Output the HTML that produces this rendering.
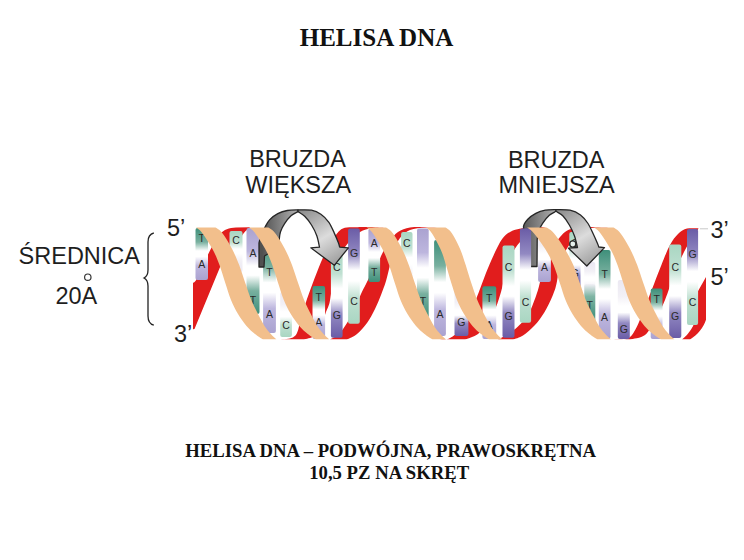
<!DOCTYPE html>
<html><head><meta charset="utf-8">
<style>
html,body{margin:0;padding:0;background:#fff;width:744px;height:560px;overflow:hidden}
svg{display:block}
.sans{font-family:"Liberation Sans",sans-serif;fill:#1e1e1e}
.bl{font-family:"Liberation Sans",sans-serif;font-size:10.5px;fill:#2a2a2a;text-anchor:middle}
.serif{font-family:"Liberation Serif",serif;font-weight:bold;fill:#111}
</style></head><body>
<svg width="744" height="560" viewBox="0 0 744 560">
<rect width="744" height="560" fill="#fff"/>
<defs>
<linearGradient id="g0" x1="0" y1="0" x2="0" y2="1"><stop offset="0" stop-color="#3e8f7a"/><stop offset="0.27" stop-color="#78b09f"/><stop offset="0.44" stop-color="#fff"/><stop offset="0.55" stop-color="#fff"/><stop offset="0.73" stop-color="#bdb6de"/><stop offset="1" stop-color="#aaa2d0"/></linearGradient>
<linearGradient id="g1" x1="0" y1="0" x2="0" y2="1"><stop offset="0" stop-color="#a9d6c2"/><stop offset="0.27" stop-color="#bfe0d1"/><stop offset="0.44" stop-color="#fff"/><stop offset="0.55" stop-color="#fff"/><stop offset="0.73" stop-color="#f2f0f6"/><stop offset="1" stop-color="#ebe8f2"/></linearGradient>
<linearGradient id="g2" x1="0" y1="0" x2="0" y2="1"><stop offset="0" stop-color="#aaa2d0"/><stop offset="0.27" stop-color="#bdb6de"/><stop offset="0.44" stop-color="#fff"/><stop offset="0.55" stop-color="#fff"/><stop offset="0.73" stop-color="#78b09f"/><stop offset="1" stop-color="#3e8f7a"/></linearGradient>
<linearGradient id="g3" x1="0" y1="0" x2="0" y2="1"><stop offset="0" stop-color="#3e8f7a"/><stop offset="0.27" stop-color="#78b09f"/><stop offset="0.44" stop-color="#fff"/><stop offset="0.55" stop-color="#fff"/><stop offset="0.73" stop-color="#bdb6de"/><stop offset="1" stop-color="#aaa2d0"/></linearGradient>
<linearGradient id="g4" x1="0" y1="0" x2="0" y2="1"><stop offset="0" stop-color="#ebe8f2"/><stop offset="0.27" stop-color="#f2f0f6"/><stop offset="0.44" stop-color="#fff"/><stop offset="0.55" stop-color="#fff"/><stop offset="0.73" stop-color="#bfe0d1"/><stop offset="1" stop-color="#a9d6c2"/></linearGradient>
<linearGradient id="g5" x1="0" y1="0" x2="0" y2="1"><stop offset="0" stop-color="#3e8f7a"/><stop offset="0.27" stop-color="#78b09f"/><stop offset="0.44" stop-color="#fff"/><stop offset="0.55" stop-color="#fff"/><stop offset="0.73" stop-color="#bdb6de"/><stop offset="1" stop-color="#aaa2d0"/></linearGradient>
<linearGradient id="g6" x1="0" y1="0" x2="0" y2="1"><stop offset="0" stop-color="#a9d6c2"/><stop offset="0.27" stop-color="#bfe0d1"/><stop offset="0.44" stop-color="#fff"/><stop offset="0.55" stop-color="#fff"/><stop offset="0.73" stop-color="#9289c2"/><stop offset="1" stop-color="#6a5ca6"/></linearGradient>
<linearGradient id="g7" x1="0" y1="0" x2="0" y2="1"><stop offset="0" stop-color="#6a5ca6"/><stop offset="0.27" stop-color="#9289c2"/><stop offset="0.44" stop-color="#fff"/><stop offset="0.55" stop-color="#fff"/><stop offset="0.73" stop-color="#bfe0d1"/><stop offset="1" stop-color="#a9d6c2"/></linearGradient>
<linearGradient id="g8" x1="0" y1="0" x2="0" y2="1"><stop offset="0" stop-color="#aaa2d0"/><stop offset="0.27" stop-color="#bdb6de"/><stop offset="0.44" stop-color="#fff"/><stop offset="0.55" stop-color="#fff"/><stop offset="0.73" stop-color="#78b09f"/><stop offset="1" stop-color="#3e8f7a"/></linearGradient>
<linearGradient id="g9" x1="0" y1="0" x2="0" y2="1"><stop offset="0" stop-color="#a9d6c2"/><stop offset="0.27" stop-color="#bfe0d1"/><stop offset="0.44" stop-color="#fff"/><stop offset="0.55" stop-color="#fff"/><stop offset="0.73" stop-color="#f2f0f6"/><stop offset="1" stop-color="#ebe8f2"/></linearGradient>
<linearGradient id="g10" x1="0" y1="0" x2="0" y2="1"><stop offset="0" stop-color="#aaa2d0"/><stop offset="0.27" stop-color="#bdb6de"/><stop offset="0.44" stop-color="#fff"/><stop offset="0.55" stop-color="#fff"/><stop offset="0.73" stop-color="#78b09f"/><stop offset="1" stop-color="#3e8f7a"/></linearGradient>
<linearGradient id="g11" x1="0" y1="0" x2="0" y2="1"><stop offset="0" stop-color="#3e8f7a"/><stop offset="0.27" stop-color="#78b09f"/><stop offset="0.44" stop-color="#fff"/><stop offset="0.55" stop-color="#fff"/><stop offset="0.73" stop-color="#bdb6de"/><stop offset="1" stop-color="#aaa2d0"/></linearGradient>
<linearGradient id="g12" x1="0" y1="0" x2="0" y2="1"><stop offset="0" stop-color="#ebe8f2"/><stop offset="0.27" stop-color="#f2f0f6"/><stop offset="0.44" stop-color="#fff"/><stop offset="0.55" stop-color="#fff"/><stop offset="0.73" stop-color="#9289c2"/><stop offset="1" stop-color="#6a5ca6"/></linearGradient>
<linearGradient id="g13" x1="0" y1="0" x2="0" y2="1"><stop offset="0" stop-color="#3e8f7a"/><stop offset="0.27" stop-color="#78b09f"/><stop offset="0.44" stop-color="#fff"/><stop offset="0.55" stop-color="#fff"/><stop offset="0.73" stop-color="#bdb6de"/><stop offset="1" stop-color="#aaa2d0"/></linearGradient>
<linearGradient id="g14" x1="0" y1="0" x2="0" y2="1"><stop offset="0" stop-color="#a9d6c2"/><stop offset="0.27" stop-color="#bfe0d1"/><stop offset="0.44" stop-color="#fff"/><stop offset="0.55" stop-color="#fff"/><stop offset="0.73" stop-color="#9289c2"/><stop offset="1" stop-color="#6a5ca6"/></linearGradient>
<linearGradient id="g15" x1="0" y1="0" x2="0" y2="1"><stop offset="0" stop-color="#6a5ca6"/><stop offset="0.27" stop-color="#9289c2"/><stop offset="0.44" stop-color="#fff"/><stop offset="0.55" stop-color="#fff"/><stop offset="0.73" stop-color="#bfe0d1"/><stop offset="1" stop-color="#a9d6c2"/></linearGradient>
<linearGradient id="g16" x1="0" y1="0" x2="0" y2="1"><stop offset="0" stop-color="#ebe8f2"/><stop offset="0.27" stop-color="#f2f0f6"/><stop offset="0.44" stop-color="#fff"/><stop offset="0.55" stop-color="#fff"/><stop offset="0.73" stop-color="#bdb6de"/><stop offset="1" stop-color="#aaa2d0"/></linearGradient>
<linearGradient id="g17" x1="0" y1="0" x2="0" y2="1"><stop offset="0" stop-color="#a9d6c2"/><stop offset="0.27" stop-color="#bfe0d1"/><stop offset="0.44" stop-color="#fff"/><stop offset="0.55" stop-color="#fff"/><stop offset="0.73" stop-color="#9289c2"/><stop offset="1" stop-color="#6a5ca6"/></linearGradient>
<linearGradient id="g18" x1="0" y1="0" x2="0" y2="1"><stop offset="0" stop-color="#ebe8f2"/><stop offset="0.27" stop-color="#f2f0f6"/><stop offset="0.44" stop-color="#fff"/><stop offset="0.55" stop-color="#fff"/><stop offset="0.73" stop-color="#f2f0f6"/><stop offset="1" stop-color="#ebe8f2"/></linearGradient>
<linearGradient id="g19" x1="0" y1="0" x2="0" y2="1"><stop offset="0" stop-color="#3e8f7a"/><stop offset="0.27" stop-color="#78b09f"/><stop offset="0.44" stop-color="#fff"/><stop offset="0.55" stop-color="#fff"/><stop offset="0.73" stop-color="#bdb6de"/><stop offset="1" stop-color="#aaa2d0"/></linearGradient>
<linearGradient id="g20" x1="0" y1="0" x2="0" y2="1"><stop offset="0" stop-color="#ebe8f2"/><stop offset="0.27" stop-color="#f2f0f6"/><stop offset="0.44" stop-color="#fff"/><stop offset="0.55" stop-color="#fff"/><stop offset="0.73" stop-color="#9289c2"/><stop offset="1" stop-color="#6a5ca6"/></linearGradient>
<linearGradient id="g21" x1="0" y1="0" x2="0" y2="1"><stop offset="0" stop-color="#3e8f7a"/><stop offset="0.27" stop-color="#78b09f"/><stop offset="0.44" stop-color="#fff"/><stop offset="0.55" stop-color="#fff"/><stop offset="0.73" stop-color="#bdb6de"/><stop offset="1" stop-color="#aaa2d0"/></linearGradient>
<linearGradient id="g22" x1="0" y1="0" x2="0" y2="1"><stop offset="0" stop-color="#a9d6c2"/><stop offset="0.27" stop-color="#bfe0d1"/><stop offset="0.44" stop-color="#fff"/><stop offset="0.55" stop-color="#fff"/><stop offset="0.73" stop-color="#9289c2"/><stop offset="1" stop-color="#6a5ca6"/></linearGradient>
<linearGradient id="g23" x1="0" y1="0" x2="0" y2="1"><stop offset="0" stop-color="#6a5ca6"/><stop offset="0.27" stop-color="#9289c2"/><stop offset="0.44" stop-color="#fff"/><stop offset="0.55" stop-color="#fff"/><stop offset="0.73" stop-color="#bfe0d1"/><stop offset="1" stop-color="#a9d6c2"/></linearGradient>
<clipPath id="hx"><rect x="193" y="226.5" width="513" height="113"/></clipPath>
</defs>
<g clip-path="url(#hx)">
<path d="M192,329.5 L192,283 L194,282.5 C196,281 199,276 204,263 C209,252 214,242 220,234 C224,229.5 229,228 236,227.5 L250,227.2 L249,229 C246,230 242,234 240,240 C236,250 230,258 224,262 L220.5,266 L194.5,329 L192,329.5 Z" fill="#e11d1d"/>
<path d="M276.0,339.5 C278.3,339.3 286.5,339.6 290.0,338.5 C293.5,337.4 295.2,336.4 297.0,333.0 C298.8,329.6 299.3,323.7 301.0,318.0 C302.7,312.3 304.8,305.5 307.0,299.0 C309.2,292.5 311.7,285.9 314.3,279.0 C316.9,272.1 320.3,263.5 322.9,257.7 C325.5,251.9 327.6,248.1 330.0,244.0 C332.4,239.9 334.9,236.0 337.0,233.4 C339.1,230.8 340.4,229.4 342.9,228.4 C345.4,227.4 348.1,227.5 352.0,227.3 C355.9,227.1 363.7,227.1 366.0,227.0 L385.0,227.0 C382.8,227.2 376.2,227.2 372.0,228.0 C367.8,228.8 363.8,229.7 360.0,232.0 C356.2,234.3 352.3,238.2 349.0,242.0 C345.7,245.8 342.3,250.7 340.0,255.0 C337.7,259.3 336.6,263.2 335.4,267.7 C334.2,272.2 333.6,276.3 332.6,282.0 C331.7,287.7 330.8,297.0 329.7,302.0 C328.6,307.0 327.4,308.0 326.0,312.0 C324.6,316.0 323.0,322.0 321.0,326.0 C319.0,330.0 316.8,333.8 314.0,336.0 C311.2,338.2 305.7,338.9 304.0,339.5 Z" fill="#e11d1d"/>
<path d="M330.0,339.5 C331.7,338.4 336.7,336.6 340.0,333.0 C343.3,329.4 347.3,322.5 350.0,318.0 C352.7,313.5 354.2,310.0 356.0,306.0 C357.8,302.0 359.3,297.7 361.0,294.0 C362.7,290.3 364.3,287.3 366.0,284.0 C367.7,280.7 369.2,277.2 371.0,274.0 C372.8,270.8 375.0,268.7 377.0,265.0 C379.0,261.3 380.8,256.0 383.0,252.0 C385.2,248.0 387.5,244.3 390.0,241.0 C392.5,237.7 394.7,234.2 398.0,232.0 C401.3,229.8 405.3,228.3 410.0,227.5 C414.7,226.7 423.3,227.1 426.0,227.0 L446.0,227.0 C442.7,227.1 432.0,227.0 426.0,227.5 C420.0,228.0 414.3,228.2 410.0,230.0 C405.7,231.8 402.7,234.7 400.0,238.0 C397.3,241.3 395.7,245.5 394.0,250.0 C392.3,254.5 391.3,259.8 390.0,265.0 C388.7,270.2 387.5,276.0 386.0,281.0 C384.5,286.0 382.8,290.3 381.0,295.0 C379.2,299.7 377.3,304.3 375.0,309.0 C372.7,313.7 370.0,318.8 367.0,323.0 C364.0,327.2 360.3,331.2 357.0,334.0 C353.7,336.8 348.7,338.6 347.0,339.5 Z" fill="#e11d1d"/>
<path d="M438.0,339.5 C439.8,339.4 444.0,341.2 448.6,338.8 C453.2,336.4 461.8,329.9 465.7,324.9 C469.6,319.9 469.9,314.4 472.0,309.0 C474.1,303.6 475.7,300.1 478.6,292.7 C481.5,285.3 485.4,273.8 489.3,264.9 C493.2,256.0 498.2,244.8 502.1,239.1 C506.0,233.4 509.7,232.4 512.9,230.6 C516.1,228.8 519.0,229.0 521.4,228.4 C523.8,227.8 526.1,227.2 527.0,227.0 L546.0,227.0 C544.2,227.6 538.8,228.5 535.0,230.5 C531.2,232.5 526.7,235.4 523.0,239.0 C519.3,242.6 515.8,246.5 513.0,252.0 C510.2,257.5 508.0,265.3 506.0,272.0 C504.0,278.7 502.7,286.2 501.0,292.0 C499.3,297.8 498.0,302.2 496.0,307.0 C494.0,311.8 492.0,316.5 489.0,321.0 C486.0,325.5 482.0,330.9 478.0,334.0 C474.0,337.1 467.2,338.6 465.0,339.5 Z" fill="#e11d1d"/>
<path d="M498.0,339.5 C499.7,338.6 504.7,336.2 508.0,334.0 C511.3,331.8 514.7,329.7 518.0,326.5 C521.3,323.3 525.0,320.1 528.0,315.0 C531.0,309.9 534.0,301.5 536.0,296.0 C538.0,290.5 538.7,287.7 540.0,282.0 C541.3,276.3 542.2,267.7 544.0,262.0 C545.8,256.3 548.6,251.9 551.0,248.0 C553.4,244.1 556.3,241.4 558.6,238.7 C560.9,236.0 562.9,233.6 565.0,232.0 C567.1,230.4 568.5,229.7 571.0,228.9 C573.5,228.1 576.7,227.6 580.0,227.3 C583.3,227.0 589.2,227.1 591.0,227.0 L610.0,227.0 C606.8,227.2 595.8,227.2 591.0,228.0 C586.2,228.8 584.0,230.0 581.0,232.0 C578.0,234.0 575.5,237.0 573.0,240.0 C570.5,243.0 568.2,246.3 566.0,250.0 C563.8,253.7 561.5,256.5 560.0,262.0 C558.5,267.5 558.0,277.1 556.7,282.8 C555.5,288.5 554.6,291.1 552.5,296.0 C550.4,300.9 547.3,307.5 544.3,312.4 C541.3,317.3 538.0,321.7 534.5,325.5 C531.0,329.3 526.6,333.1 523.0,335.4 C519.4,337.7 514.8,338.8 513.1,339.5 Z" fill="#e11d1d"/>
<path d="M612.0,339.5 C614.5,339.4 623.0,340.5 627.0,338.8 C631.0,337.1 632.5,335.0 635.7,329.1 C638.9,323.2 642.1,314.1 646.4,303.4 C650.7,292.7 657.5,274.6 661.4,264.9 C665.3,255.2 667.2,250.2 670.0,245.0 C672.8,239.8 675.2,236.7 678.0,234.0 C680.8,231.3 683.7,229.5 687.0,228.6 C690.3,227.7 696.2,228.4 698.0,228.3 L698.5,228.3 C698.2,228.8 698.1,229.4 697.0,231.0 C695.9,232.6 694.2,234.5 692.0,238.0 C689.8,241.5 686.8,246.3 684.0,252.0 C681.2,257.7 678.2,264.0 675.0,272.0 C671.8,280.0 668.3,292.0 665.0,300.0 C661.7,308.0 658.3,314.2 655.0,320.0 C651.7,325.8 649.2,331.8 645.0,335.0 C640.8,338.2 632.5,338.8 630.0,339.5 Z" fill="#e11d1d"/>
<path d="M706.5,276 L707,316 C705,326 699,334 690,339.5 L682,339.5 C689,334 694,326 697,316 L697.5,292 Z" fill="#e11d1d"/>
<rect x="195.5" y="228.0" width="12.5" height="52.0" rx="2" fill="url(#g0)"/>
<text class="bl" x="201.8" y="241.6">T</text>
<text class="bl" x="201.8" y="267.6">A</text>
<rect x="229.5" y="231.0" width="13.0" height="41.0" rx="2" fill="url(#g1)"/>
<text class="bl" x="236.0" y="243.6">C</text>
<rect x="246.5" y="228.0" width="13.0" height="86.0" rx="2" fill="url(#g2)"/>
<text class="bl" x="253.0" y="256.6">A</text>
<text class="bl" x="253.0" y="303.6">T</text>
<rect x="263.1" y="243.0" width="12.8" height="90.0" rx="2" fill="url(#g3)"/>
<text class="bl" x="269.5" y="276.0">T</text>
<text class="bl" x="269.5" y="317.6">A</text>
<rect x="280.2" y="292.0" width="11.7" height="45.0" rx="2" fill="url(#g4)"/>
<text class="bl" x="286.0" y="328.6">C</text>
<rect x="312.5" y="286.0" width="12.6" height="53.0" rx="2" fill="url(#g5)"/>
<text class="bl" x="318.8" y="300.6">T</text>
<text class="bl" x="318.8" y="326.3">A</text>
<rect x="330.9" y="250.0" width="11.7" height="87.7" rx="2" fill="url(#g6)"/>
<text class="bl" x="336.8" y="270.6">C</text>
<text class="bl" x="336.8" y="318.6">G</text>
<rect x="348.1" y="228.4" width="11.7" height="95.4" rx="2" fill="url(#g7)"/>
<text class="bl" x="354.0" y="256.6">G</text>
<text class="bl" x="354.0" y="304.6">C</text>
<rect x="368.4" y="228.4" width="11.7" height="53.6" rx="2" fill="url(#g8)"/>
<text class="bl" x="374.2" y="247.0">A</text>
<text class="bl" x="374.2" y="276.0">T</text>
<rect x="401.1" y="232.0" width="11.4" height="58.0" rx="2" fill="url(#g9)"/>
<text class="bl" x="406.8" y="247.0">C</text>
<rect x="417.0" y="228.4" width="11.7" height="89.6" rx="2" fill="url(#g10)"/>
<text class="bl" x="422.9" y="304.9">T</text>
<rect x="434.1" y="240.0" width="11.8" height="96.0" rx="2" fill="url(#g11)"/>
<text class="bl" x="440.0" y="317.6">A</text>
<rect x="454.5" y="290.0" width="13.9" height="46.0" rx="2" fill="url(#g12)"/>
<text class="bl" x="461.4" y="326.3">G</text>
<rect x="482.4" y="286.3" width="13.8" height="52.7" rx="2" fill="url(#g13)"/>
<text class="bl" x="489.3" y="301.6">T</text>
<text class="bl" x="489.3" y="328.5">A</text>
<rect x="502.5" y="245.6" width="12.0" height="92.1" rx="2" fill="url(#g14)"/>
<text class="bl" x="508.5" y="270.6">C</text>
<text class="bl" x="508.5" y="319.9">G</text>
<rect x="538.1" y="232.0" width="12.8" height="50.0" rx="2" fill="url(#g16)"/>
<text class="bl" x="544.5" y="270.6">A</text>
<rect x="569.3" y="232.0" width="11.2" height="60.0" rx="2" fill="url(#g17)"/>
<text class="bl" x="574.9" y="247.0">C</text>
<text class="bl" x="574.9" y="276.6">G</text>
<rect x="584.3" y="262.0" width="11.0" height="34.0" rx="2" fill="url(#g18)"/>
<rect x="598.8" y="249.9" width="11.7" height="88.9" rx="2" fill="url(#g19)"/>
<text class="bl" x="604.6" y="278.1">T</text>
<text class="bl" x="604.6" y="321.0">A</text>
<rect x="617.8" y="280.0" width="12.0" height="59.0" rx="2" fill="url(#g20)"/>
<text class="bl" x="623.8" y="332.9">G</text>
<rect x="650.7" y="288.4" width="11.8" height="50.6" rx="2" fill="url(#g21)"/>
<text class="bl" x="656.6" y="302.6">T</text>
<text class="bl" x="656.6" y="327.1">A</text>
<rect x="669.2" y="244.5" width="12.1" height="93.5" rx="2" fill="url(#g22)"/>
<text class="bl" x="675.2" y="270.5">C</text>
<text class="bl" x="675.2" y="319.6">G</text>
<rect x="687.0" y="229.0" width="11.1" height="96.0" rx="2" fill="url(#g23)"/>
<text class="bl" x="692.5" y="258.2">G</text>
<text class="bl" x="692.5" y="306.2">C</text>
<linearGradient id="gx1" x1="0" y1="0" x2="0" y2="1"><stop offset="0" stop-color="#f2f0f6"/><stop offset="0.3" stop-color="#7fb5a4"/><stop offset="0.75" stop-color="#4a9581"/><stop offset="1" stop-color="#8cc0b0"/></linearGradient>
<rect x="584.3" y="284" width="11" height="41" rx="2" fill="url(#gx1)"/><text class="bl" x="589.8" y="308.6">T</text>
</g>
<linearGradient id="al1" gradientUnits="userSpaceOnUse" x1="262.0" y1="0" x2="298.0" y2="0"><stop offset="0" stop-color="#505050"/><stop offset="1" stop-color="#b2b2b2"/></linearGradient>
<linearGradient id="ar1" gradientUnits="userSpaceOnUse" x1="300.0" y1="209.8" x2="335.0" y2="265.8"><stop offset="0" stop-color="#8a8a8a"/><stop offset="0.55" stop-color="#dcdcdc"/><stop offset="1" stop-color="#9c9c9c"/></linearGradient>
<path d="M259.0,267.0 L259.0,242.8 C259.4,241.3 260.5,236.4 261.5,233.8 C262.5,231.2 263.7,229.4 265.1,227.0 C266.5,224.6 267.7,221.8 269.8,219.6 C271.9,217.4 274.9,215.1 277.8,213.6 C280.7,212.1 283.9,211.1 287.3,210.5 C290.7,209.9 296.2,210.0 298.0,209.9 L298.0,211.6 C296.9,212.3 293.5,213.6 291.3,215.6 C289.1,217.6 286.4,220.9 284.6,223.6 C282.8,226.3 281.4,229.0 280.5,231.7 C279.6,234.4 279.4,238.5 279.2,239.8 L275.5,249.0 L264.5,256.0 L264.0,267.0 Z" fill="url(#al1)" stroke="#262626" stroke-width="1.3" stroke-linejoin="round"/>
<path d="M298.0,209.9 C300.2,210.0 307.7,209.5 311.5,210.2 C315.3,210.9 318.0,212.2 320.9,214.2 C323.8,216.2 326.7,219.2 328.9,222.3 C331.1,225.5 332.7,229.7 334.3,233.1 C335.9,236.5 337.4,240.2 338.3,242.5 C339.2,244.8 339.5,246.4 339.7,247.2 L348.4,247.8 L334.3,265.3 L310.8,247.8 L319.5,247.2 C319.1,245.3 318.1,239.5 316.8,235.8 C315.5,232.1 313.5,228.2 311.5,225.0 C309.5,221.8 306.9,218.5 304.7,216.3 C302.4,214.1 299.1,212.4 298.0,211.6 Z" fill="url(#ar1)" stroke="#262626" stroke-width="1.3" stroke-linejoin="round"/>
<linearGradient id="al2" gradientUnits="userSpaceOnUse" x1="520.0" y1="0" x2="556.0" y2="0"><stop offset="0" stop-color="#505050"/><stop offset="1" stop-color="#b2b2b2"/></linearGradient>
<linearGradient id="ar2" gradientUnits="userSpaceOnUse" x1="558.0" y1="209.5" x2="593.0" y2="265.5"><stop offset="0" stop-color="#8a8a8a"/><stop offset="0.55" stop-color="#dcdcdc"/><stop offset="1" stop-color="#9c9c9c"/></linearGradient>
<path d="M530.0,266.5 L530.0,244.0 C529.3,242.3 527.1,236.9 526.0,234.0 C524.9,231.1 523.2,229.1 523.5,226.7 C523.8,224.2 525.8,221.5 527.8,219.3 C529.8,217.1 532.9,214.8 535.8,213.3 C538.7,211.8 541.9,210.8 545.3,210.2 C548.7,209.6 554.2,209.7 556.0,209.6 L556.0,211.3 C554.9,212.0 551.5,213.3 549.3,215.3 C547.1,217.3 544.4,220.6 542.6,223.3 C540.8,226.0 539.4,228.7 538.5,231.4 C537.6,234.1 537.4,238.2 537.2,239.5 L537.0,266.5 Z" fill="url(#al2)" stroke="#262626" stroke-width="1.3" stroke-linejoin="round"/>
<path d="M556.0,209.6 C558.3,209.7 565.9,209.3 570.0,210.2 C574.1,211.1 577.5,212.8 580.5,215.0 C583.5,217.2 585.8,220.2 588.0,223.5 C590.2,226.8 591.9,231.2 593.5,234.5 C595.1,237.8 596.6,241.4 597.5,243.5 C598.4,245.6 598.6,246.4 598.8,247.0 L604.5,247.6 L586.8,266.0 L568.5,248.2 L577.5,247.5 C577.0,245.6 575.8,239.7 574.5,236.0 C573.2,232.3 571.4,228.5 569.5,225.2 C567.6,221.9 565.2,218.3 563.0,216.0 C560.8,213.7 557.2,212.1 556.0,211.3 Z" fill="url(#ar2)" stroke="#262626" stroke-width="1.3" stroke-linejoin="round"/>
<g clip-path="url(#hx)">
<rect x="519.9" y="228.4" width="11.2" height="94.3" rx="2" fill="url(#g15)"/>
<text class="bl" x="525.5" y="306.0">C</text>
</g>
<circle cx="572.8" cy="244" r="3.1" fill="#e6f0ec" stroke="#2a2a2a" stroke-width="1.4"/>
<g clip-path="url(#hx)">
<path d="M196.0,227.5 C196.8,228.2 199.2,229.4 201.0,231.5 C202.8,233.6 204.8,236.6 207.0,240.0 C209.2,243.4 211.9,247.8 214.0,252.0 C216.1,256.2 217.6,259.8 219.5,265.0 C221.4,270.2 223.4,277.2 225.3,283.0 C227.2,288.8 228.9,294.8 231.0,300.0 C233.1,305.2 235.4,309.7 238.0,314.0 C240.6,318.3 243.7,322.7 246.5,326.0 C249.3,329.3 252.2,331.8 255.0,334.0 C257.8,336.2 261.7,338.6 263.0,339.5 L276.5,339.5 C275.6,338.6 272.8,336.2 270.8,334.0 C268.8,331.8 266.6,329.3 264.5,326.0 C262.4,322.7 260.2,318.3 258.0,314.0 C255.8,309.7 253.4,305.2 251.3,300.0 C249.2,294.8 247.3,288.8 245.3,283.0 C243.3,277.2 241.1,270.2 239.2,265.0 C237.2,259.8 235.6,256.2 233.6,252.0 C231.6,247.8 229.1,243.4 227.0,240.0 C224.9,236.6 222.9,233.6 221.0,231.5 C219.1,229.4 216.4,228.2 215.5,227.5 Z" fill="#f2bf8c"/>
<path d="M248.8,227.5 C249.6,228.2 252.0,229.4 253.8,231.5 C255.6,233.6 257.6,236.6 259.8,240.0 C262.0,243.4 264.7,247.8 266.8,252.0 C268.9,256.2 270.4,259.8 272.3,265.0 C274.2,270.2 276.2,277.2 278.1,283.0 C280.0,288.8 281.7,294.8 283.8,300.0 C285.9,305.2 288.2,309.7 290.8,314.0 C293.4,318.3 296.5,322.7 299.3,326.0 C302.1,329.3 305.1,331.8 307.8,334.0 C310.6,336.2 314.5,338.6 315.8,339.5 L329.3,339.5 C328.4,338.6 325.6,336.2 323.6,334.0 C321.6,331.8 319.4,329.3 317.3,326.0 C315.2,322.7 313.0,318.3 310.8,314.0 C308.6,309.7 306.2,305.2 304.1,300.0 C302.0,294.8 300.1,288.8 298.1,283.0 C296.1,277.2 293.9,270.2 292.0,265.0 C290.1,259.8 288.4,256.2 286.4,252.0 C284.4,247.8 281.9,243.4 279.8,240.0 C277.7,236.6 275.7,233.6 273.8,231.5 C271.9,229.4 269.2,228.2 268.3,227.5 Z" fill="#f2bf8c"/>
<path d="M366.5,227.5 C367.3,228.2 369.6,229.4 371.4,231.5 C373.2,233.6 375.1,236.6 377.2,240.0 C379.3,243.4 381.9,247.8 383.9,252.0 C385.9,256.2 387.3,259.8 389.1,265.0 C390.9,270.2 392.9,277.2 394.8,283.0 C396.7,288.8 398.4,294.8 400.5,300.0 C402.6,305.2 404.9,309.7 407.5,314.0 C410.1,318.3 413.2,322.7 416.0,326.0 C418.8,329.3 421.8,331.8 424.5,334.0 C427.2,336.2 431.2,338.6 432.5,339.5 L446.0,339.5 C445.1,338.6 442.3,336.2 440.3,334.0 C438.3,331.8 436.1,329.3 434.0,326.0 C431.9,322.7 429.7,318.3 427.5,314.0 C425.3,309.7 422.9,305.2 420.8,300.0 C418.7,294.8 416.8,288.8 414.8,283.0 C412.8,277.2 410.7,270.2 408.8,265.0 C406.9,259.8 405.5,256.2 403.5,252.0 C401.6,247.8 399.2,243.4 397.2,240.0 C395.2,236.6 393.3,233.6 391.4,231.5 C389.5,229.4 386.9,228.2 386.0,227.5 Z" fill="#f2bf8c"/>
<path d="M426.0,227.5 C426.8,228.2 429.0,229.4 430.6,231.5 C432.3,233.6 434.0,236.6 435.8,240.0 C437.7,243.4 440.0,247.8 441.7,252.0 C443.4,256.2 444.4,259.8 446.0,265.0 C447.6,270.2 449.5,277.2 451.3,283.0 C453.1,288.8 454.9,294.8 457.0,300.0 C459.1,305.2 461.4,309.7 464.0,314.0 C466.6,318.3 469.7,322.7 472.5,326.0 C475.3,329.3 478.2,331.8 481.0,334.0 C483.8,336.2 487.7,338.6 489.0,339.5 L502.5,339.5 C501.6,338.6 498.8,336.2 496.8,334.0 C494.8,331.8 492.6,329.3 490.5,326.0 C488.4,322.7 486.2,318.3 484.0,314.0 C481.8,309.7 479.4,305.2 477.3,300.0 C475.2,294.8 473.2,288.8 471.3,283.0 C469.4,277.2 467.3,270.2 465.7,265.0 C464.0,259.8 462.9,256.2 461.3,252.0 C459.7,247.8 457.6,243.4 455.8,240.0 C454.0,236.6 452.3,233.6 450.6,231.5 C448.9,229.4 446.4,228.2 445.5,227.5 Z" fill="#f2bf8c"/>
<path d="M527.0,227.5 C527.9,228.2 530.3,229.4 532.3,231.5 C534.3,233.6 536.6,236.6 539.0,240.0 C541.5,243.4 544.6,247.8 547.0,252.0 C549.4,256.2 551.5,259.8 553.6,265.0 C555.7,270.2 557.8,277.2 559.8,283.0 C561.8,288.8 563.4,294.8 565.5,300.0 C567.6,305.2 569.9,309.7 572.5,314.0 C575.1,318.3 578.2,322.7 581.0,326.0 C583.8,329.3 586.8,331.8 589.5,334.0 C592.2,336.2 596.2,338.6 597.5,339.5 L611.0,339.5 C610.0,338.6 607.3,336.2 605.3,334.0 C603.3,331.8 601.1,329.3 599.0,326.0 C596.9,322.7 594.7,318.3 592.5,314.0 C590.3,309.7 587.9,305.2 585.8,300.0 C583.7,294.8 581.9,288.8 579.8,283.0 C577.7,277.2 575.5,270.2 573.3,265.0 C571.1,259.8 569.0,256.2 566.6,252.0 C564.2,247.8 561.4,243.4 559.0,240.0 C556.6,236.6 554.4,233.6 552.3,231.5 C550.2,229.4 547.5,228.2 546.5,227.5 Z" fill="#f2bf8c"/>
<path d="M594.0,227.5 C594.8,228.2 597.2,229.4 599.0,231.5 C600.8,233.6 602.8,236.6 605.0,240.0 C607.2,243.4 609.9,247.8 612.0,252.0 C614.1,256.2 615.6,259.8 617.5,265.0 C619.4,270.2 621.4,277.2 623.3,283.0 C625.2,288.8 626.9,294.8 629.0,300.0 C631.1,305.2 633.4,309.7 636.0,314.0 C638.6,318.3 641.7,322.7 644.5,326.0 C647.3,329.3 650.2,331.8 653.0,334.0 C655.8,336.2 659.7,338.6 661.0,339.5 L674.5,339.5 C673.5,338.6 670.8,336.2 668.8,334.0 C666.8,331.8 664.6,329.3 662.5,326.0 C660.4,322.7 658.2,318.3 656.0,314.0 C653.8,309.7 651.4,305.2 649.3,300.0 C647.2,294.8 645.3,288.8 643.3,283.0 C641.3,277.2 639.2,270.2 637.2,265.0 C635.2,259.8 633.6,256.2 631.6,252.0 C629.6,247.8 627.1,243.4 625.0,240.0 C622.9,236.6 620.9,233.6 619.0,231.5 C617.1,229.4 614.4,228.2 613.5,227.5 Z" fill="#f2bf8c"/>
</g>

<text class="serif" x="376.5" y="45.6" font-size="25" text-anchor="middle">HELISA DNA</text>
<text class="serif" x="390.6" y="456.5" font-size="18.7" text-anchor="middle">HELISA DNA – PODWÓJNA, PRAWOSKRĘTNA</text>
<text class="serif" x="389.2" y="479.3" font-size="18.7" text-anchor="middle">10,5 PZ NA SKRĘT</text>

<text class="sans" x="297.5" y="167.2" font-size="23.5" text-anchor="middle">BRUZDA</text>
<text class="sans" x="298.2" y="192.8" font-size="23.5" text-anchor="middle">WIĘKSZA</text>
<text class="sans" x="556.2" y="167.8" font-size="23.5" text-anchor="middle">BRUZDA</text>
<text class="sans" x="556.5" y="192.8" font-size="23.5" text-anchor="middle">MNIEJSZA</text>

<text class="sans" x="79.3" y="264.1" font-size="23.5" text-anchor="middle">ŚREDNICA</text>
<text class="sans" x="76.3" y="303.8" font-size="23.5" text-anchor="middle">20A</text>
<circle cx="87.8" cy="277.2" r="3.2" fill="none" stroke="#333" stroke-width="1.2"/>
<path d="M153.8,233 C149.5,234 148,237 148,242 L148,270 C148,274.5 147,276.5 144,278 C147,279.5 148,281.5 148,286 L148,316 C148,321 149.5,324 153.8,325.2" fill="none" stroke="#222" stroke-width="1.3"/>

<text class="sans" x="167" y="236.3" font-size="23.5">5’</text>
<text class="sans" x="174" y="341.5" font-size="23.5">3’</text>
<line id="endline" x1="700" y1="228.8" x2="708" y2="228.8" stroke="#c8c8c8" stroke-width="1"/>
<text class="sans" x="710.5" y="238" font-size="23.5">3’</text>
<text class="sans" x="710.5" y="285.2" font-size="23.5">5’</text>
</svg>
</body></html>
